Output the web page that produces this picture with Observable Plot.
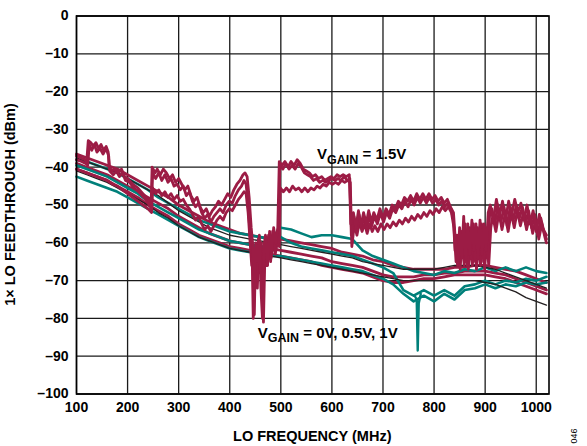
<!DOCTYPE html>
<html><head><meta charset="utf-8">
<script src="https://cdn.jsdelivr.net/npm/d3@7"></script>
<script src="https://cdn.jsdelivr.net/npm/@observablehq/plot@0.6"></script>
<style>body{margin:0;background:#fff}#chart{width:587px;height:446px}</style>
</head><body><div id="chart"></div>
<script>
// ---------- data ----------
const xTicks = [100,200,300,400,500,600,700,800,900,1000];
const yTicks = [0,-10,-20,-30,-40,-50,-60,-70,-80,-90,-100];
const freqGrid = [100,120,140,160,180,200,220,240,260,280,300,320,340,360,380,400,420,440,460,480,500,520,540,560,580,600,620,640,660,680,700,720,740,760,780,800,820,840,860,880,900,920,940,960,980,1000,1020];

// smooth crimson curves (low bundle)
const crimsonLow1 = [-36.5,-37.5,-38.5,-39.5,-40.5,-42,-43.5,-45,-46.5,-48,-50,-51.5,-53,-54.5,-55.5,-56.5,-57.5,-58,-58.5,-59,-59,-59.5,-60,-60.5,-61,-61.5,-62.5,-63,-63.5,-64.5,-65,-66,-66.5,-67,-67,-67,-67,-66.5,-66.5,-66,-66,-66.5,-67,-67.5,-68.5,-69.5,-70.5];
const crimsonLow2 = [-39,-40,-41,-42,-43.5,-45,-46.5,-48,-49.5,-51,-53,-54.5,-56,-57.5,-58.5,-59.5,-60,-60.5,-61,-61.5,-62,-62.5,-63,-63.5,-64,-65,-65.5,-66,-66.5,-67.5,-68.5,-69,-69,-69,-68.5,-68.5,-68,-68,-67.5,-67.5,-67.5,-68,-68.5,-69.5,-70.5,-71.5,-72.5];
const crimsonLow3 = [-40.5,-41.5,-42.5,-43.5,-45,-46.5,-48,-50,-51.5,-53,-55,-56.5,-58,-59,-60,-61,-61.5,-62,-62.5,-63,-63.5,-64,-64.5,-65,-66,-66.5,-67,-67.5,-68,-69,-70,-70.5,-70.5,-70,-69.5,-69.5,-69,-68.5,-68.5,-68.5,-68.5,-69,-69.5,-70.5,-71.5,-72.5,-73.5];
// black curves
const black1 = [-37.5,-38.5,-39.5,-40.5,-41.5,-43,-44.5,-46,-47.5,-49.5,-51.5,-53,-54.5,-56,-57,-58,-58.5,-59,-59.5,-60,-60.5,-61,-61.5,-62,-62.5,-63,-63.5,-64,-65,-65.5,-66,-66.5,-67,-67,-67,-67,-66.5,-66,-66,-66,-66.5,-67,-68,-69,-70,-71,-72];
const black2 = [-41,-42,-43,-44,-45.5,-47,-48.5,-50,-52,-53.5,-55.5,-57,-58.5,-59.5,-60.5,-61.5,-62,-62.5,-63,-63.5,-64,-64.5,-65,-65.5,-66,-66.5,-67,-67.5,-68,-68.5,-69,-69.5,-70,-70,-70,-70,-70,-70,-70,-70,-70.5,-71,-72,-73,-74.5,-75.5,-76.5];
// teal curves (VGAIN = 0V, 0.5V, 1V)
const teal1 = [-38,-38.5,-39.5,-40.5,-41.5,-43,-44.5,-46,-48,-49.5,-51,-52.5,-54,-55,-56,-57,-57.5,-58,-58.5,-59,-56,-56.5,-57.5,-58.5,-58,-58,-58.5,-59,-62,-63.5,-64.5,-65.5,-66.5,-67.5,-68,-68.5,-67.5,-68,-67,-67.5,-66.5,-67.5,-66.5,-67.5,-66.5,-67.5,-68];
const teal2 = [-39.5,-40.5,-41.5,-42.5,-44,-45.5,-47,-49,-50.5,-52,-53.5,-55,-56.5,-57.5,-58.5,-59.5,-60,-60.5,-61,-61,-58.5,-60,-61,-61.5,-62,-62.5,-63,-63.5,-64.5,-65.5,-66.5,-68,-72.5,-74,-72.5,-74,-72.5,-74,-71.5,-71,-70,-71,-70,-70.5,-69.5,-70,-69];
const teal3 = [-42.5,-43.5,-44.5,-45.5,-46.5,-48,-49.5,-51,-52.5,-54,-55.5,-57,-58.5,-59.5,-60.5,-61.5,-62,-62.5,-63,-63.5,-63.5,-64,-64.5,-65,-65.5,-66,-66.5,-67,-67.5,-68.5,-69.5,-71,-73.5,-75.5,-74,-75.5,-73.5,-75,-72.5,-72,-71,-72,-71,-71.5,-70.5,-71,-70.5];
const tealSpike = [[762,-74],[766,-75],[768,-88.5],[770,-76],[774,-73.5]];

// VGAIN = 1.5V crimson curves [MHz, dBm]
const gain15a = [[100,-37],[108,-37.5],[116,-38],[120,-38.5],[123,-33],[128,-33.5],[133,-34.5],[138,-33.5],[143,-35],[148,-34],[153,-35.5],[158,-34.5],[162,-36],[164,-40],[170,-41],[176,-40.5],[182,-41.5],[188,-40.5],[194,-42.5],[200,-43],[210,-44.5],[220,-45.5],[230,-47],[240,-48.5],[246,-50],[248,-40],[254,-41.5],[258,-40.5],[264,-42],[270,-40.5],[276,-41.5],[282,-43],[288,-42],[294,-44],[300,-43],[306,-44.5],[312,-46],[318,-45],[324,-47.5],[330,-49],[336,-48],[342,-50.5],[348,-52],[354,-51],[360,-53],[366,-51.5],[372,-50.5],[378,-49],[384,-50],[390,-48.5],[396,-47],[402,-48],[408,-46],[414,-44.5],[420,-43.5],[426,-42],[430,-41.5],[434,-42.5],[438,-48],[442,-56],[446,-62],[448,-79],[451,-60],[455,-65],[458,-58],[461,-72],[464,-80],[467,-61],[470,-58],[474,-66],[478,-57],[482,-63],[486,-56],[490,-60],[494,-56],[497,-38.5],[502,-39.5],[508,-38.5],[514,-40],[520,-38.5],[526,-39.5],[532,-38],[538,-39],[544,-40.5],[550,-41],[556,-41.5],[562,-42.5],[568,-42],[574,-43],[580,-42.5],[586,-43.5],[592,-43],[598,-42.5],[604,-43],[610,-42],[616,-42.5],[622,-42],[628,-42.5],[634,-42],[637,-55],[642,-52],[647,-56],[652,-51.5],[657,-55.5],[662,-52],[667,-55],[672,-51.5],[677,-54.5],[682,-52],[688,-54],[694,-51],[700,-53.5],[706,-51],[712,-52.5],[718,-50],[724,-51],[730,-49],[736,-50],[742,-48],[748,-49],[754,-47.5],[760,-49],[766,-47],[772,-48.5],[778,-47],[784,-48.5],[790,-47],[796,-48.5],[802,-47.5],[808,-49],[814,-48],[820,-49.5],[826,-48.5],[832,-50.5],[838,-52],[842,-60],[846,-66],[850,-56],[854,-64],[858,-53],[862,-65],[866,-55],[870,-63],[874,-54],[878,-62],[882,-55],[886,-64],[890,-54],[894,-63],[898,-55],[902,-62],[906,-52],[910,-50],[916,-54],[922,-48.5],[928,-53],[934,-49],[940,-54],[946,-49],[952,-52.5],[958,-48.5],[964,-52],[970,-49.5],[976,-54],[982,-50],[988,-55],[994,-51.5],[1000,-57],[1006,-52.5],[1012,-56],[1020,-58]];
const gain15b = [[100,-38],[110,-38.5],[118,-39],[122,-39.5],[125,-34],[130,-35.5],[135,-34],[140,-36],[146,-35],[152,-36.5],[158,-35],[163,-37],[165,-41],[172,-42],[178,-41],[184,-42.5],[190,-41.5],[196,-43.5],[204,-44],[212,-45.5],[222,-46.5],[232,-48],[240,-49.5],[247,-51],[249,-41.5],[255,-43],[261,-41.5],[267,-43.5],[273,-42],[279,-44],[285,-43],[291,-45],[297,-44.5],[303,-46],[309,-45],[315,-47.5],[321,-46.5],[327,-49],[333,-50.5],[339,-49.5],[345,-52],[351,-53.5],[357,-52.5],[363,-54.5],[369,-53],[375,-52],[381,-51],[387,-52],[393,-50],[399,-49],[405,-49.5],[411,-47.5],[417,-46],[423,-45],[428,-43.5],[432,-44.5],[436,-50],[440,-58],[444,-64],[446,-80],[449,-62],[453,-70],[456,-59],[459,-66],[462,-60],[465,-78],[468,-60],[472,-64],[476,-58],[480,-65],[484,-57],[488,-62],[492,-58],[496,-60],[498,-39.5],[504,-40.5],[510,-39],[516,-40.5],[522,-39.5],[528,-40.5],[534,-39],[540,-40],[546,-41.5],[552,-42],[558,-42.5],[564,-43.5],[570,-43],[576,-44],[582,-43.5],[588,-44],[594,-43.5],[600,-43],[606,-43.5],[612,-43],[618,-43.5],[624,-42.5],[630,-43.5],[635,-43],[638,-58],[643,-53],[648,-57],[653,-52.5],[658,-56],[663,-53],[668,-56.5],[673,-52.5],[678,-55.5],[683,-53],[689,-55],[695,-52],[701,-54.5],[707,-52],[713,-53.5],[719,-51],[725,-52],[731,-50],[737,-51],[743,-49],[749,-50.5],[755,-48.5],[761,-50],[767,-48],[773,-49.5],[779,-48],[785,-49.5],[791,-48],[797,-49.5],[803,-48.5],[809,-50],[815,-49],[821,-50.5],[827,-49.5],[833,-51],[838,-54],[841,-62],[845,-58],[849,-66],[853,-57],[857,-63],[861,-55],[865,-66],[869,-56],[873,-64],[877,-55],[881,-65],[885,-56],[889,-63],[893,-55],[897,-65],[901,-56],[905,-64],[909,-52],[913,-51],[919,-55],[925,-50],[931,-54.5],[937,-50.5],[943,-55.5],[949,-50.5],[955,-54],[961,-50],[967,-53.5],[973,-50.5],[979,-55],[985,-51.5],[991,-56],[997,-52.5],[1003,-58],[1009,-53.5],[1015,-57],[1020,-59]];
const gain15c = [[100,-40.5],[110,-41],[120,-41.5],[130,-42],[140,-42.5],[150,-43],[160,-43.5],[170,-44.5],[180,-45],[190,-46],[200,-47],[210,-48],[220,-49],[230,-50],[240,-51],[247,-52],[249,-45.5],[255,-47],[261,-46],[267,-47.5],[273,-46.5],[279,-48],[285,-47],[291,-48.5],[297,-47.5],[303,-49],[309,-48.5],[315,-50],[321,-51],[327,-52.5],[333,-54],[339,-53],[345,-55],[351,-56.5],[357,-55.5],[363,-57],[369,-55.5],[375,-54],[381,-53],[387,-54],[393,-52],[399,-51],[405,-51.5],[411,-50],[417,-48.5],[423,-47.5],[428,-46.5],[432,-47],[436,-52],[440,-60],[443,-66],[445,-62],[447,-79],[450,-63],[454,-72],[457,-61],[460,-68],[463,-62],[466,-81],[469,-62],[473,-66],[477,-60],[481,-64],[485,-59],[489,-63],[493,-60],[497,-61],[499,-45.5],[505,-46.5],[511,-45.5],[517,-46.5],[523,-45],[529,-46],[535,-45.5],[541,-46.5],[547,-45.5],[553,-46.5],[559,-45.5],[565,-46],[571,-45],[577,-45.5],[583,-44.5],[589,-45],[595,-44],[601,-44.5],[607,-44],[613,-44.5],[619,-43.5],[625,-44],[631,-43.5],[636,-44],[639,-61],[644,-55],[649,-58],[654,-54.5],[659,-57],[664,-55],[669,-57.5],[674,-55],[679,-57],[684,-55.5],[690,-57],[696,-55],[702,-56.5],[708,-55],[714,-56],[720,-54.5],[726,-55.5],[732,-54],[738,-55],[744,-53.5],[750,-54.5],[756,-53],[762,-54],[768,-52.5],[774,-53.5],[780,-52],[786,-53],[792,-51.5],[798,-52.5],[804,-51],[810,-52],[816,-50.5],[822,-51.5],[828,-50.5],[834,-52],[839,-56],[843,-65],[847,-60],[851,-67],[855,-59],[859,-66],[863,-58],[867,-67],[871,-60],[875,-66],[879,-58],[883,-67],[887,-60],[891,-66],[895,-58],[899,-67],[903,-59],[907,-66],[911,-56],[915,-53],[921,-57],[927,-52],[933,-56.5],[939,-52.5],[945,-57],[951,-52],[957,-56],[963,-51.5],[969,-55.5],[975,-52],[981,-56.5],[987,-53],[993,-57.5],[999,-54],[1005,-59],[1011,-55],[1017,-58.5],[1020,-60]];

const labelHigh = {f: 572, db: -38, sub: "GAIN", text: " = 1.5V"};
const labelLow = {f: 456, db: -85.2, sub: "GAIN", text: " = 0V, 0.5V, 1V"};

// ---------- build ----------
const CRIMSON = "#9c1c45", TEAL = "#00807a", BLACK = "#231f20";
const gridRows = arr => freqGrid.map((f, i) => ({f, db: arr[i]}));
const pairRows = arr => arr.map(([f, db]) => ({f, db}));

const lineSpecs = [
  [gridRows(crimsonLow1), CRIMSON, 2.8],
  [gridRows(crimsonLow2), CRIMSON, 2.8],
  [gridRows(crimsonLow3), CRIMSON, 2.8],
  [gridRows(teal1), TEAL, 2.6],
  [gridRows(teal2), TEAL, 2.6],
  [gridRows(teal3), TEAL, 2.6],
  [gridRows(black1), BLACK, 1.3],
  [gridRows(black2), BLACK, 1.3],
  [pairRows(tealSpike), TEAL, 2.4],
  [pairRows(gain15c), CRIMSON, 2.8],
  [pairRows(gain15b), CRIMSON, 2.8],
  [pairRows(gain15a), CRIMSON, 2.8]
];

const FONT = "'Liberation Sans', Arial, Helvetica, sans-serif";
const fmtY = d => d === 0 ? "0" : "\u2013" + Math.abs(d);

const chart = Plot.plot({
  width: 587, height: 446,
  marginLeft: 76, marginRight: 38.5, marginTop: 15.5, marginBottom: 52.5,
  style: {fontFamily: FONT, fontSize: "14px", fontWeight: "bold", color: "#000", background: "#fff", overflow: "visible"},
  x: {domain: [100, 1025], label: null},
  y: {domain: [-100, 0], label: null},
  marks: [
    Plot.gridX(xTicks, {stroke: "#1a1a1a", strokeOpacity: 1, strokeWidth: 1.3}),
    Plot.gridY(yTicks, {stroke: "#1a1a1a", strokeOpacity: 1, strokeWidth: 1.3}),
    Plot.axisX(xTicks, {tickSize: 0, tickPadding: 8, tickFormat: d => String(d), label: null}),
    Plot.axisY(yTicks, {tickSize: 0, tickPadding: 8, tickFormat: fmtY, label: null}),
    ...lineSpecs.map(([rows, color, w]) => Plot.line(rows, {x: "f", y: "db", stroke: color, strokeWidth: w, strokeLinejoin: "round", strokeLinecap: "round"})),
    Plot.frame({stroke: "#000", strokeWidth: 1.6})
  ]
});
document.getElementById("chart").appendChild(chart);

// ---------- text annotations ----------
const svg = d3.select(chart);
const sx = chart.scale("x"), sy = chart.scale("y");
svg.append("text").attr("x", (76 + 548.5) / 2).attr("y", 441).attr("text-anchor", "middle")
  .style("font", `bold 14.5px ${FONT}`).attr("fill", "#000").text("LO FREQUENCY (MHz)");
svg.append("text").attr("transform", `translate(15,${(15.5 + 393.5) / 2}) rotate(-90)`).attr("text-anchor", "middle")
  .style("font", `bold 14.5px ${FONT}`).attr("fill", "#000").text("1\u00d7 LO FEEDTHROUGH (dBm)");
svg.append("text").attr("transform", "translate(577,436) rotate(-90)").attr("text-anchor", "middle")
  .style("font", `9px ${FONT}`).attr("fill", "#000").text("046");

function vgain(lab) {
  const t = svg.append("text").attr("x", sx.apply(lab.f)).attr("y", sy.apply(lab.db))
    .attr("text-anchor", "start")
    .style("font-family", FONT).style("font-weight", "bold").attr("fill", "#000");
  t.append("tspan").style("font-size", "15px").text("V");
  t.append("tspan").style("font-size", "12.5px").attr("dy", 4.5).text(lab.sub);
  t.append("tspan").style("font-size", "15px").attr("dy", -4.5).text(lab.text);
}
vgain(labelHigh);
vgain(labelLow);
</script>
</body></html>
